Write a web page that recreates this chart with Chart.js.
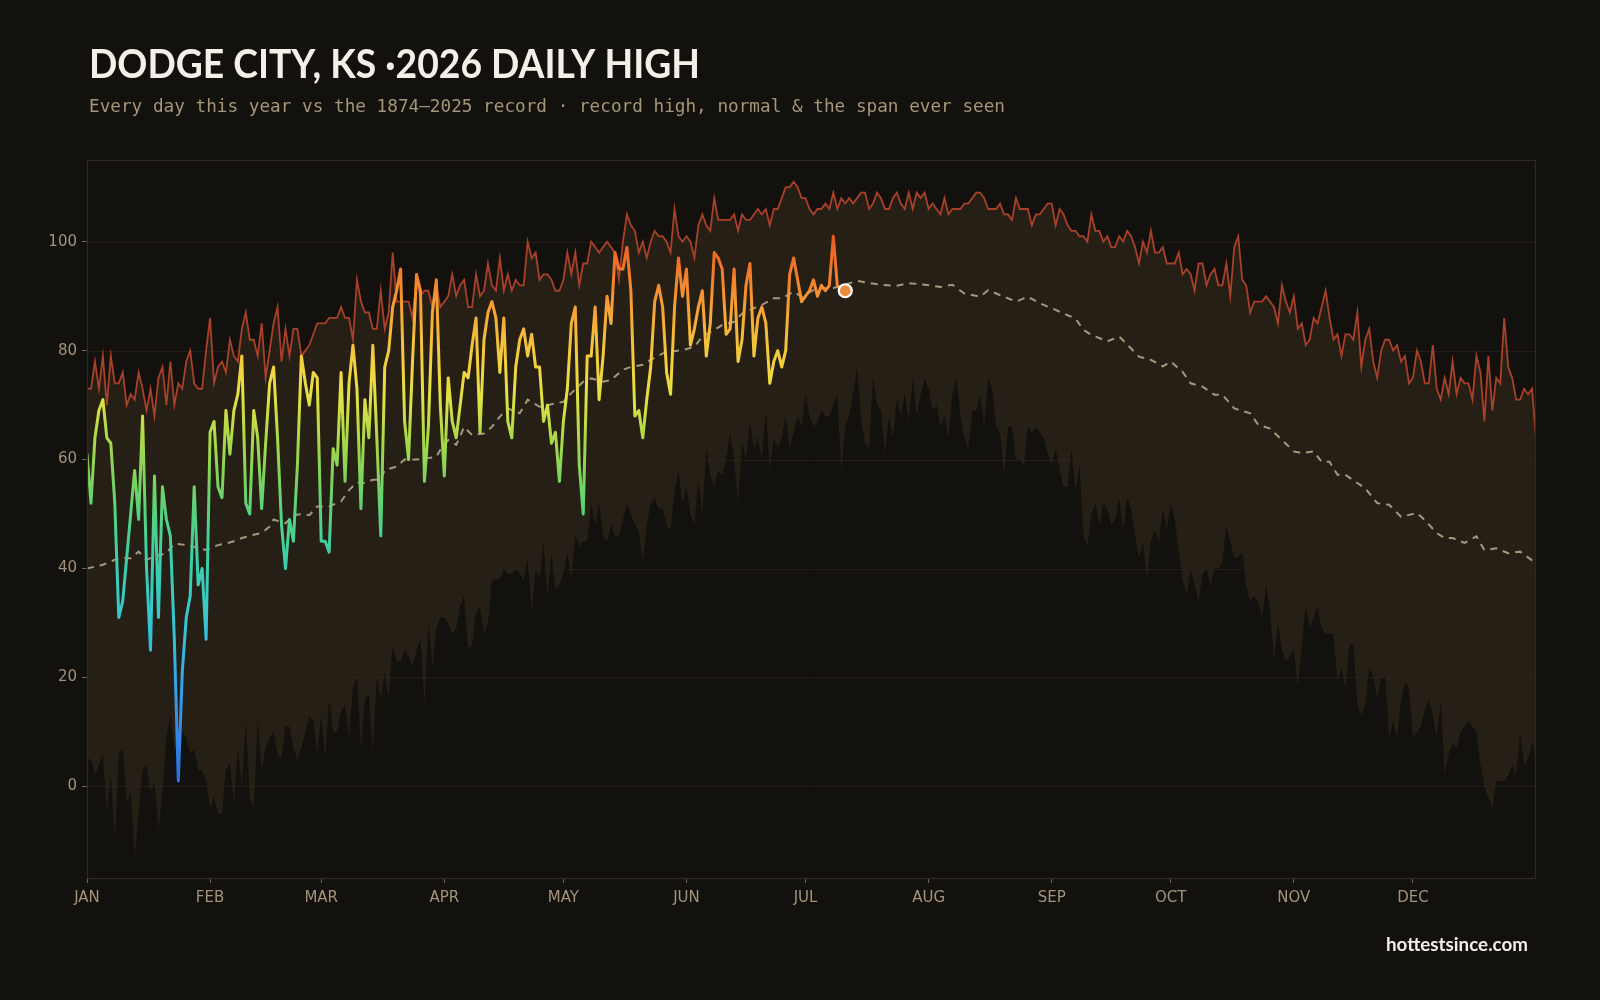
<!DOCTYPE html>
<html>
<head>
<meta charset="utf-8">
<script src="https://cdn.jsdelivr.net/npm/chart.js@4.4.1/dist/chart.umd.min.js"></script>
<style>
  html, body { margin: 0; padding: 0; background: #13110d; }
  #wrap { position: relative; width: 1600px; height: 1000px; }
  canvas { display: block; }
</style>
</head>
<body>
<div id="wrap"><canvas id="c" width="1600" height="1000"></canvas></div>
<script>
// ---------------- DATA ----------------
const TITLE = 'DODGE CITY, KS \u00B72026 DAILY HIGH';
const SUBTITLE = 'Every day this year vs the 1874\u20132025 record \u00B7 record high, normal & the span ever seen';
const FOOTER = 'hottestsince.com';

const monthStartDays = [0, 31, 59, 90, 120, 151, 181, 212, 243, 273, 304, 334];
const monthLabels = ['JAN','FEB','MAR','APR','MAY','JUN','JUL','AUG','SEP','OCT','NOV','DEC'];
const yTickValues = [0, 20, 40, 60, 80, 100];

// 2026 daily highs, day 0 = Jan 1 ... day 191 = Jul 11
const highs2026 = [
  61,52,64,69,71,64,63,52,31,34,
  42,50,58,49,68,40,25,57,31,55,
  49,46,27,1,21,31,35,55,37,40,
  27,65,67,55,53,69,61,69,72,79,
  52,50,69,64,51,63,74,77,64,48,
  40,49,45,59,79,74,70,76,75,45,
  45,43,62,59,76,56,74,81,73,51,
  71,64,81,64,46,77,80,88,91,95,
  67,60,78,94,91,56,66,87,93,70,
  57,75,67,64,70,76,75,81,86,65,
  82,87,89,86,76,86,67,64,77,82,
  84,79,83,77,77,67,70,63,65,56,
  67,73,85,88,59,50,79,79,88,71,
  79,90,85,98,95,95,99,91,68,69,
  64,71,77,89,92,88,76,72,88,97,
  90,95,81,84,88,91,79,85,98,97,
  95,83,84,95,78,82,92,96,79,86,
  88,85,74,78,80,77,80,94,97,93,
  89,90,91,93,90,92,91,92,101,92,
  91,91
];

// Record high for each day of year (366 days)
const recordHigh = [
  73,73,78,73,79,70,79,74,74,76,
  70,72,71,76,73,69,73,68,75,77,
  70,78,70,74,73,78,80,74,73,73,
  80,86,74,77,78,76,82,79,78,84,
  87,82,82,79,85,75,80,85,88,78,
  84,79,84,84,79,80,81,83,85,85,
  85,86,86,86,88,86,86,82,93,89,
  87,87,84,84,91,84,87,98,89,89,
  89,89,86,93,90,91,91,88,92,88,
  89,90,94,90,92,93,88,88,94,90,
  91,96,92,91,97,91,94,91,93,92,
  92,100,97,98,93,94,94,93,91,91,
  93,98,94,98,92,96,96,100,99,98,
  99,100,99,98,93,100,105,103,102,98,
  100,97,100,102,101,101,100,98,106,101,
  100,101,100,97,103,105,103,102,108,104,
  104,104,104,105,102,105,104,104,105,106,
  105,106,103,106,106,108,110,110,111,110,
  108,108,106,105,106,106,107,106,109,106,
  108,107,108,107,108,109,109,106,107,109,
  108,106,106,108,109,107,106,109,106,109,
  108,109,106,107,106,105,108,105,106,106,
  106,107,107,108,109,109,108,106,106,106,
  107,105,105,104,108,106,106,106,103,105,
  105,106,107,107,103,106,105,103,102,102,
  101,101,100,105,102,102,100,101,99,99,
  101,100,102,101,99,96,100,98,102,98,
  98,99,96,96,96,98,94,95,94,91,
  96,96,92,94,95,92,92,96,90,99,
  101,93,92,87,89,89,89,90,89,88,
  85,92,89,87,90,84,85,81,82,86,
  85,88,91,86,82,83,79,83,83,82,
  87,77,82,84,78,75,80,82,82,80,
  81,78,79,74,75,80,78,74,74,81,
  73,71,75,72,78,72,75,74,74,71,
  79,76,67,79,69,75,74,86,77,75,
  71,71,73,72,73,64
];

// Record low of the daily high for each day of year (366 days)
const recordLow = [
  5,5,2,4,6,-5,2,-10,6,7,
  -3,-1,-13,-5,3,4,-1,1,-8,-1,
  9,13,7,7,10,9,6,7,3,3,
  1,-4,-2,-5,-5,3,4,-3,7,0,
  12,-2,-4,12,3,7,9,10,6,5,
  11,11,7,5,7,10,13,12,6,13,
  5,16,10,10,14,15,9,18,20,7,
  16,17,6,20,16,21,16,26,23,23,
  25,24,22,25,27,15,30,22,29,31,
  31,30,28,29,33,35,25,26,32,33,
  28,30,38,38,38,40,39,39,40,39,
  38,42,32,40,38,45,35,43,36,37,
  39,43,38,46,44,45,45,52,48,52,
  46,45,48,46,46,49,52,50,48,47,
  41,48,52,53,51,51,48,47,54,58,
  52,55,50,48,56,50,62,57,55,58,
  57,60,65,60,52,63,60,67,62,64,
  60,69,58,64,62,64,68,62,65,68,
  66,72,68,66,67,69,68,68,70,72,
  58,66,68,72,77,67,63,62,75,70,
  69,61,68,64,71,68,72,67,75,68,
  72,75,73,69,70,66,68,64,72,75,
  68,64,62,69,69,72,66,75,73,66,
  65,57,66,66,60,60,59,66,65,66,
  65,64,61,59,62,58,55,55,62,54,
  59,46,44,50,52,48,52,51,48,49,
  53,47,53,51,46,42,45,38,45,47,
  45,51,47,52,49,43,38,35,40,37,
  34,39,40,37,40,40,41,48,45,42,
  42,43,37,34,35,34,31,37,32,23,
  30,25,23,24,25,18,26,33,29,31,
  33,29,28,28,28,19,22,18,26,26,
  15,13,15,22,20,16,20,20,9,12,
  9,16,19,18,9,10,11,14,16,13,
  9,16,2,6,8,7,10,11,12,11,
  10,4,0,-2,-4,1,1,1,2,4,
  2,10,4,5,8,6
];

// Normal daily high, read at these days of the year
const normalDays = [0,4,8,11,13,15,17,20,22,25,27,30,33,35,37,39,42,44,46,47,50,52,54,56,58,61,
  64,66,68,70,72,74,75,78,80,83,85,88,89,91,93,95,97,100,102,104,106,109,111,114,116,120,122,125,
  127,130,132,135,137,140,142,145,147,150,153,155,158,160,163,165,168,170,173,175,178,180,183,185,
  188,194,197,200,204,207,211,215,218,221,225,227,231,234,237,240,243,247,249,251,253,257,260,263,
  265,268,271,273,276,278,281,284,286,289,293,295,298,301,304,306,309,311,313,315,317,320,322,325,
  328,331,335,337,340,342,344,347,350,352,355,358,361,364,365];
const normalVals = [40,40.7,41.9,41.9,43.1,41.6,42.2,42.8,44.6,44.3,44,43.4,44.3,44.6,45,45.6,46.2,46.5,47.7,49,48.3,49.8,50,49.8,51.4,51.4,
  52.3,54.4,55.8,55.7,56.3,56.3,58.1,58.7,60,60,60.2,60.5,61.8,63.6,62.7,66,64.5,64.8,66,67.9,69.4,68.5,71,69.7,70,70.6,72.2,74.3,
  74.9,74.3,74.6,76.5,77,77.4,78.3,79.5,79.8,80.1,80.7,82.6,83.8,84.7,85.3,86.8,87.8,88.4,89.6,89.6,90.8,89.9,91.1,91.4,
  91.5,92.8,92.4,92.1,91.9,92.4,92.1,91.7,92.1,90.5,89.9,91.1,89.9,89,89.9,88.7,87.8,86.5,85.9,83.8,82.9,81.7,82.6,80.4,
  78.9,78.3,77.1,78,76.1,74,73.4,71.9,71.9,69.4,68.5,66.4,65.7,63.6,61.5,61.2,61.5,59.6,59.6,57.2,57.2,55.7,54.7,52,
  51.7,49.5,50.2,48.9,46.5,45.6,45.6,44.7,45.9,43.4,43.7,42.8,43.1,41.5,41];

// colour ramp for the 2026 line (temperature -> colour)
const rampTemps  = [0, 15, 25, 33, 42, 50, 58, 65, 71, 76, 82, 88, 93, 98, 103];
const rampColors = ['#2b6fe0','#3796e6','#35b8de','#38c9c8','#3ccfa8','#55d27e','#86d457','#b2da47',
                    '#dde245','#f2d641','#f5bf3c','#f5a035','#f3832d','#ee6a27','#e85322'];

// ---------------- STYLE ----------------
const BG = '#13110d';
const BAND = '#251f16';
const RED = '#a9402a';
const NORMAL_C = '#a5987d';
const TICK_C = '#a3937a';
const GRID_C = 'rgba(46,39,31,0.6)';
const FRAME_C = '#2f2921';

const toXY = (vals) => vals.map((v, i) => ({ x: i, y: v }));
const normalXY = normalDays.map((d, i) => ({ x: d, y: normalVals[i] }));

let gradCache = null, gradKey = '';
function tempGradient(chart) {
  const area = chart.chartArea;
  if (!area) return rampColors[8];
  const y = chart.scales.y;
  const y0 = y.getPixelForValue(rampTemps[0]);
  const y1 = y.getPixelForValue(rampTemps[rampTemps.length - 1]);
  const key = y0 + '_' + y1;
  if (gradCache && key === gradKey) return gradCache;
  const g = chart.ctx.createLinearGradient(0, y0, 0, y1);
  const span = rampTemps[rampTemps.length - 1] - rampTemps[0];
  rampTemps.forEach((t, i) => g.addColorStop((t - rampTemps[0]) / span, rampColors[i]));
  gradCache = g; gradKey = key;
  return g;
}

const bgPlugin = {
  id: 'bg',
  beforeDraw(chart) {
    const c = chart.ctx;
    c.save();
    c.fillStyle = BG;
    c.fillRect(0, 0, chart.width, chart.height);
    c.restore();
  }
};

const gridPlugin = {
  id: 'gridOver',
  beforeDatasetsDraw(chart) {
    const c = chart.ctx, a = chart.chartArea, y = chart.scales.y;
    c.save();
    c.strokeStyle = GRID_C;
    c.lineWidth = 1;
    yTickValues.forEach(v => {
      const py = Math.round(y.getPixelForValue(v)) + 0.5;
      c.beginPath(); c.moveTo(a.left, py); c.lineTo(a.right, py); c.stroke();
    });
    c.restore();
  },
  afterDraw(chart) {
    const c = chart.ctx, a = chart.chartArea;
    c.save();
    c.strokeStyle = FRAME_C;
    c.lineWidth = 1.2;
    c.strokeRect(a.left + 0.5, a.top + 0.5, a.right - a.left - 1, a.bottom - a.top - 1);
    c.restore();
  }
};

function fitText(c, text, x, y, width) {
  const w = c.measureText(text).width;
  const s = width / w;
  c.save();
  c.translate(x, y);
  c.scale(s, 1);
  c.fillText(text, 0, 0);
  c.restore();
}

const textPlugin = {
  id: 'texts',
  afterDraw(chart) {
    const c = chart.ctx;
    c.save();
    c.textBaseline = 'alphabetic';
    c.textAlign = 'left';
    c.fillStyle = '#f4f0e8';
    c.font = '700 41px Lato';
    fitText(c, TITLE, 89, 78, 611);
    c.fillStyle = '#a69679';
    c.font = '17.7px "DejaVu Sans Mono"';
    fitText(c, SUBTITLE, 89, 112, 916);
    c.fillStyle = '#f4f0e8';
    c.font = '700 18.5px Lato';
    fitText(c, FOOTER, 1386, 950.5, 142);
    c.restore();
  }
};

const lastIdx = highs2026.length - 1;

new Chart(document.getElementById('c'), {
  type: 'line',
  data: {
    datasets: [
      {
        label: '2026',
        data: toXY(highs2026),
        borderColor: (ctx) => tempGradient(ctx.chart),
        borderWidth: 3,
        tension: 0,
        fill: false,
        borderJoinStyle: 'round',
        borderCapStyle: 'round',
        pointRadius: (ctx) => ctx.dataIndex === lastIdx ? 6.5 : 0,
        pointHoverRadius: (ctx) => ctx.dataIndex === lastIdx ? 6.5 : 0,
        pointBackgroundColor: '#ec8a3c',
        pointBorderColor: '#ffffff',
        pointBorderWidth: 2.2
      },
      {
        label: 'normal',
        data: normalXY,
        borderColor: NORMAL_C,
        borderWidth: 2,
        borderDash: [7, 6],
        pointRadius: 0,
        tension: 0,
        fill: false
      },
      {
        label: 'record high',
        data: toXY(recordHigh),
        borderColor: RED,
        borderWidth: 1.8,
        pointRadius: 0,
        tension: 0,
        fill: 3,
        backgroundColor: BAND
      },
      {
        label: 'record low',
        data: toXY(recordLow),
        borderColor: 'rgba(0,0,0,0)',
        borderWidth: 0,
        pointRadius: 0,
        tension: 0,
        fill: false
      }
    ]
  },
  options: {
    responsive: false,
    animation: false,
    devicePixelRatio: 1,
    events: [],
    layout: { padding: { left: 0, top: 160, right: 64, bottom: 0 } },
    plugins: {
      legend: { display: false },
      tooltip: { enabled: false },
      filler: { propagate: false, drawTime: 'beforeDatasetsDraw' }
    },
    scales: {
      x: {
        type: 'linear',
        min: 0,
        max: 365,
        afterFit: (s) => { s.height = 121; },
        afterBuildTicks: (s) => { s.ticks = monthStartDays.map(v => ({ value: v })); },
        ticks: {
          autoSkip: false,
          maxRotation: 0,
          color: TICK_C,
          font: { family: 'DejaVu Sans', size: 15 },
          padding: 6,
          callback: (v) => monthLabels[monthStartDays.indexOf(v)]
        },
        grid: { drawOnChartArea: false, drawTicks: true, tickLength: 4, tickColor: '#6e624f' },
        border: { display: false }
      },
      y: {
        min: -17,
        max: 115,
        afterFit: (s) => { s.width = 87; },
        afterBuildTicks: (s) => { s.ticks = yTickValues.map(v => ({ value: v })); },
        ticks: {
          color: TICK_C,
          font: { family: 'DejaVu Sans', size: 15 },
          padding: 5
        },
        grid: { drawOnChartArea: false, drawTicks: true, tickLength: 5, tickColor: '#6e624f' },
        border: { display: false }
      }
    }
  },
  plugins: [bgPlugin, gridPlugin, textPlugin]
});
</script>
</body>
</html>
